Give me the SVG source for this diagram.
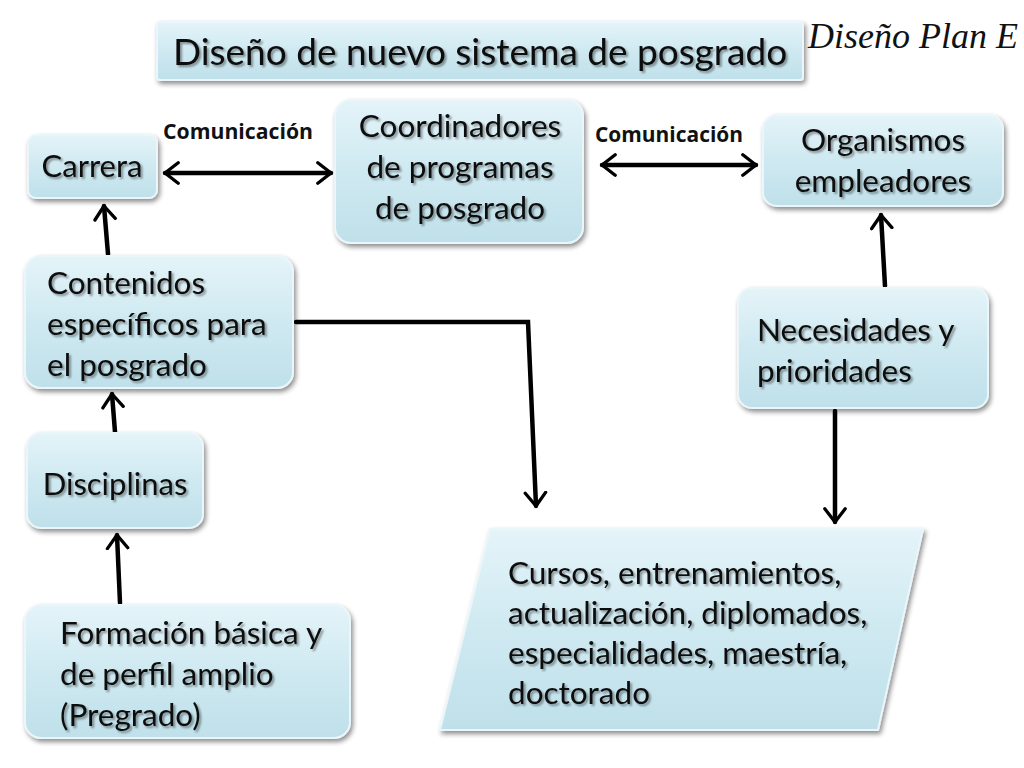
<svg xmlns="http://www.w3.org/2000/svg" width="1024" height="768" viewBox="0 0 1024 768">
<defs>
<style>
.box{fill:url(#bg);stroke:#eaf6fa;stroke-width:2;filter:url(#sh)}
.t{font-family:Lato,"Open Sans","Liberation Sans",sans-serif;fill:#111;filter:url(#ts)}
.big{font-size:31.5px}
.lab{font-family:"Open Sans","Liberation Sans",sans-serif;font-weight:bold;font-size:20.5px;fill:#111}
.c{fill:none;stroke:#000;stroke-width:4.5;stroke-linecap:round}
</style>
<linearGradient id="bg" x1="0" y1="0" x2="0" y2="1">
<stop offset="0" stop-color="#e4f4f9"/>
<stop offset="0.5" stop-color="#cfe9f1"/>
<stop offset="1" stop-color="#bfe0ea"/>
</linearGradient>
<filter id="sh" x="-10%" y="-10%" width="125%" height="130%">
<feGaussianBlur in="SourceAlpha" stdDeviation="2.5"/>
<feOffset dx="2" dy="3" result="b"/>
<feComponentTransfer><feFuncA type="linear" slope="0.45"/></feComponentTransfer>
<feMerge><feMergeNode/><feMergeNode in="SourceGraphic"/></feMerge>
</filter>
<filter id="ts" x="-5%" y="-20%" width="115%" height="150%">
<feGaussianBlur in="SourceAlpha" stdDeviation="1"/>
<feOffset dx="2" dy="2"/>
<feComponentTransfer><feFuncA type="linear" slope="0.4"/></feComponentTransfer>
<feMerge><feMergeNode/><feMergeNode in="SourceGraphic"/></feMerge>
</filter>
<marker id="ah" viewBox="0 0 12 16" refX="10" refY="8" markerWidth="4" markerHeight="5.4" orient="auto-start-reverse" markerUnits="strokeWidth">
<path d="M1.2,1.2 L10,8 L1.2,14.8" fill="none" stroke="#000" stroke-width="2.2" stroke-linecap="round" stroke-linejoin="round"/>
</marker>
</defs>
<rect width="1024" height="768" fill="#fff"/>

<g id="title">
<rect x="157" y="22" width="646" height="58" rx="3" class="box"/>
<text x="480" y="65" text-anchor="middle" class="t" font-size="37">Diseño de nuevo sistema de posgrado</text>
</g>
<g id="plan">
<text x="913" y="48" text-anchor="middle" font-family="'Liberation Serif',serif" font-style="italic" font-size="36" fill="#111">Diseño Plan E</text>
</g>

<g id="connectors">
<line x1="165" y1="173" x2="331" y2="173" class="c" marker-start="url(#ah)" marker-end="url(#ah)"/>
<line x1="602" y1="165" x2="756" y2="165" class="c" marker-start="url(#ah)" marker-end="url(#ah)"/>
<line x1="108" y1="254" x2="104" y2="206" class="c" marker-end="url(#ah)"/>
<line x1="115" y1="432" x2="112" y2="394" class="c" marker-end="url(#ah)"/>
<line x1="120" y1="603" x2="117" y2="535" class="c" marker-end="url(#ah)"/>
<polyline points="296,322 528,322 536,506" class="c" stroke-linejoin="miter" marker-end="url(#ah)"/>
<line x1="885" y1="286" x2="881" y2="215" class="c" marker-end="url(#ah)"/>
<line x1="835" y1="411" x2="835" y2="522" class="c" marker-end="url(#ah)"/>
<text x="238" y="139" text-anchor="middle" class="lab" textLength="150" lengthAdjust="spacingAndGlyphs">Comunicación</text>
<text x="669" y="142" text-anchor="middle" class="lab" textLength="148" lengthAdjust="spacingAndGlyphs">Comunicación</text>
</g>

<g id="carrera">
<rect x="28" y="135" width="129" height="63" rx="8" class="box"/>
<text x="92" y="177" text-anchor="middle" class="t" font-size="31">Carrera</text>
</g>
<g id="coordinadores">
<rect x="335" y="100" width="248" height="143" rx="16" class="box"/>
<text x="460" y="137" text-anchor="middle" class="t big">Coordinadores</text>
<text x="460" y="178" text-anchor="middle" class="t big">de programas</text>
<text x="460" y="219" text-anchor="middle" class="t big">de posgrado</text>
</g>
<g id="organismos">
<rect x="763" y="115" width="240" height="91" rx="14" class="box"/>
<text x="883" y="151" text-anchor="middle" class="t big">Organismos</text>
<text x="883" y="192" text-anchor="middle" class="t big">empleadores</text>
</g>
<g id="contenidos">
<rect x="25" y="256" width="268" height="132" rx="16" class="box"/>
<text x="47" y="294" class="t big">Contenidos</text>
<text x="47" y="335" class="t big">específicos para</text>
<text x="47" y="376" class="t big">el posgrado</text>
</g>
<g id="necesidades">
<rect x="738" y="288" width="250" height="120" rx="14" class="box"/>
<text x="757" y="341" class="t big">Necesidades y</text>
<text x="757" y="382" class="t big">prioridades</text>
</g>
<g id="disciplinas">
<rect x="27" y="433" width="176" height="95" rx="14" class="box"/>
<text x="115" y="495" text-anchor="middle" class="t" font-size="31">Disciplinas</text>
</g>
<g id="formacion">
<rect x="25" y="605" width="325" height="133" rx="16" class="box"/>
<text x="60" y="644" class="t big">Formación básica y</text>
<text x="60" y="685" class="t big">de perfil amplio</text>
<text x="60" y="726" class="t big">(Pregrado)</text>
</g>
<g id="cursos">
<polygon points="490,529 923,529 878,730 440,730" class="box"/>
<text x="508" y="584" class="t big">Cursos, entrenamientos,</text>
<text x="508" y="624" class="t big">actualización, diplomados,</text>
<text x="508" y="664" class="t big">especialidades, maestría,</text>
<text x="508" y="704" class="t big">doctorado</text>
</g>
</svg>
